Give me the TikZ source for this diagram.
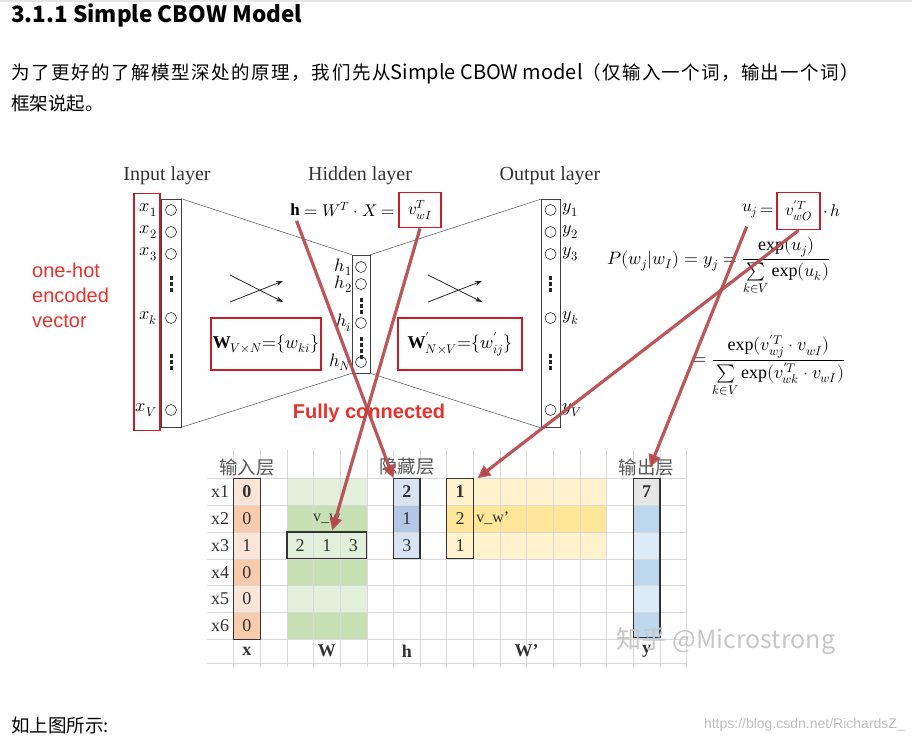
\documentclass[tikz,border=0pt]{standalone}
\usepackage{fontspec}
\usepackage{unicode-math}
\setmainfont{Liberation Serif}
\newfontfamily\cjk{Noto Sans CJK SC}
\newfontfamily\arial{Liberation Sans}
\usetikzlibrary{arrows.meta}

\definecolor{boxred}{RGB}{200,30,40}
\definecolor{arrowred}{RGB}{182,72,74}
\definecolor{hotred}{RGB}{230,50,45}
\definecolor{orgA}{RGB}{252,228,214}
\definecolor{orgB}{RGB}{248,203,173}
\definecolor{grnA}{RGB}{226,239,218}
\definecolor{grnB}{RGB}{198,224,180}
\definecolor{bluA}{RGB}{218,227,243}
\definecolor{bluB}{RGB}{180,199,231}
\definecolor{ylwA}{RGB}{255,242,204}
\definecolor{ylwB}{RGB}{255,230,153}
\definecolor{skyA}{RGB}{221,235,247}
\definecolor{skyB}{RGB}{189,215,238}
\definecolor{cellgray}{RGB}{231,230,230}
\definecolor{gridgray}{RGB}{217,217,217}

\tikzset{
  layer/.style={draw=black!75, line width=0.6pt, inner sep=0pt},
  neuron/.style={circle, draw=black!80, line width=0.6pt, minimum size=11pt, inner sep=0pt},
  unitlabel/.style={inner sep=0pt, font=\fontsize{18}{20}\selectfont},
  redbox/.style={draw=boxred, line width=1.8pt, inner sep=2pt},
  redarrow/.style={draw=arrowred, draw opacity=0.92, line width=3.2pt, -{Triangle[length=13pt,width=12pt]}},
  crossarrow/.style={draw=black!85, line width=0.8pt, -{Stealth[length=7pt,width=5pt]}},
  tblbox/.style={draw=black!80, line width=1.3pt},
  cell/.style={inner sep=0pt, font=\fontsize{18}{20}\selectfont, text=black!80},
  plain/.style={inner sep=0pt},
}

\begin{document}
\begin{tikzpicture}[x=1pt, y=-1pt, font=\fontsize{17}{19}\selectfont]
\useasboundingbox (0,0) rectangle (912,750);
\draw[black!10, line width=1.5pt] (0,1) -- (912,1);

\node[plain, anchor=west, font=\cjk\bfseries\fontsize{22.5}{25}\selectfont] (title) at (11,15) {3.1.1 Simple CBOW Model};
\node[plain, anchor=west, font=\cjk\fontsize{18.5}{21}\selectfont] (para1) at (11,74) {{\addfontfeature{LetterSpace=8.4}为了更好的了解模型深处的原理，我们先从}{\fontsize{20}{21}\selectfont Simple CBOW model}{\addfontfeature{LetterSpace=7}（仅输入一个词，输出一个词）}};
\node[plain, anchor=west, font=\cjk\fontsize{18.5}{21}\selectfont] (para2) at (11,104) {框架说起。};

% layers
\node[font=\fontsize{20}{22}\selectfont, text=black!80] (inlabel) at (167,176) {Input layer};
\node[font=\fontsize{20}{22}\selectfont, text=black!80] (hidlabel) at (360,176) {Hidden layer};
\node[font=\fontsize{20}{22}\selectfont, text=black!80] (outlabel) at (550,176) {Output layer};

\node[layer, minimum width=20pt, minimum height=228pt] (inlayer) at (171,313) {};
\node[layer, minimum width=18pt, minimum height=118pt] (hidlayer) at (361,314) {};
\node[layer, minimum width=19pt, minimum height=228pt] (outlayer) at (550.5,313.5) {};

\draw[black!60, line width=0.6pt] (inlayer.north east) -- (hidlayer.north west)
  (inlayer.south east) -- (hidlayer.south west)
  (hidlayer.north east) -- (outlayer.north west)
  (hidlayer.south east) -- (outlayer.south west);

\foreach \y/\lab [count=\i] in {210/1, 232/2, 254/3, 318/k, 410/V} {
  \node[neuron] (x\i) at (171,\y) {};
  \node[unitlabel, anchor=east] (xl\i) at (157,\y) {$x_{\lab}$};
  \node[neuron] (y\i) at (550.5,\y) {};
  \node[unitlabel, anchor=west] (yl\i) at (562,\y) {$y_{\lab}$};
}
\foreach \y/\lab [count=\i] in {267/1, 284/2, 323/i, 362/N} {
  \node[neuron] (h\i) at (361,\y) {};
  \node[unitlabel, anchor=east] (hl\i) at (352,\y) {$h_{\lab}$};
}
\foreach \y in {276,282,288,354,360,366} {
  \fill[black!85] (169.5,\y) rectangle ++(3,3.5);
  \fill[black!85] (549,\y) rectangle ++(3,3.5);
}
\foreach \y in {298,304,310,337,343,349,355}
  \fill[black!85] (359.5,\y) rectangle ++(3,3.5);

\draw[crossarrow] (230,275) -- (283,302);
\draw[crossarrow] (230,302) -- (283,281);
\draw[crossarrow] (428,275) -- (482,302);
\draw[crossarrow] (428,302) -- (482,281);

\node[redbox, minimum width=26pt, minimum height=237pt] (hotbox) at (147,312) {};
\node[plain, anchor=west, align=left, font=\arial\fontsize{20}{25}\selectfont, text=hotred] (hottext) at (32,295) {one-hot\\encoded\\vector};

\node[redbox, minimum width=108pt, minimum height=52pt, font=\fontsize{18}{20}\selectfont] (wbox) at (266,344) {$\mathbf{W}_{V\times N}{=}\{w_{ki}\}$};
\node[redbox, minimum width=124pt, minimum height=52pt, font=\fontsize{18}{20}\selectfont] (wpbox) at (460,344) {$\mathbf{W}^{\prime}_{N\times V}{=}\{w^{\prime}_{ij}\}$};

% formulas
\node[redbox, minimum width=42pt, minimum height=35pt] (vwI) at (420,210) {$v^T_{wI}$};
\node[anchor=east, inner sep=3pt] (heq) at (vwI.west) {$=W^T\cdot X=$};
\node[anchor=east, inner sep=1pt] (hsym) at (heq.west) {$\mathbf{h}$};

\node[redbox, minimum width=43pt, minimum height=37pt] (vwO) at (798.5,211) {$v^{\prime T}_{wO}$};
\node[anchor=east, inner sep=2pt] (ueq) at (vwO.west) {$=$};
\node[anchor=east, inner sep=1pt] (usym) at (ueq.west) {$u_j$};
\node[anchor=west, inner sep=2pt] (udot) at (vwO.east) {$\cdot\,h$};

\node[font=\fontsize{18}{20}\selectfont] (pform) at (719,266) {$P(w_j|w_I)=y_j=\dfrac{\exp(u_j)}{\sum\limits_{k\in V}\exp(u_k)}$};
\node[font=\fontsize{18}{20}\selectfont] (pform2) at (769,366) {$=\dfrac{\exp(v^{\prime T}_{wj}\cdot v_{wI})}{\sum\limits_{k\in V}\exp(v^{\prime T}_{wk}\cdot v_{wI})}$};

\node[font=\arial\bfseries\fontsize{20}{22}\selectfont, text=hotred] (fully) at (369,413) {Fully connected};

% table
\begin{scope}[shift={(206.9,478.3)}, x=26.65pt, y=-26.83pt]
  \foreach \r/\c in {1/orgA,2/orgB,3/orgA,4/orgB,5/orgA,6/orgB} {
    \fill[\c] (1,\r-1) rectangle (2,\r);
  }
  \foreach \r/\c in {1/grnA,2/grnB,3/grnA,4/grnB,5/grnA,6/grnB} {
    \fill[\c] (3,\r-1) rectangle (6,\r);
  }
  \foreach \r/\c in {1/bluA,2/bluB,3/bluA} {
    \fill[\c] (7,\r-1) rectangle (8,\r);
  }
  \foreach \r/\c in {1/ylwA,2/ylwB,3/ylwA} {
    \fill[\c] (9,\r-1) rectangle (15,\r);
  }
  \foreach \r/\c in {1/cellgray,2/skyB,3/skyA,4/skyB,5/skyA,6/skyB} {
    \fill[\c] (16,\r-1) rectangle (17,\r);
  }
  \foreach \r in {0,...,6}
    \draw[gridgray, line width=0.6pt] (0,\r) -- (18,\r);
  \draw[gridgray, line width=0.6pt] (0,6.9) -- (18,6.9);
  \foreach \c in {1,...,18}
    \draw[gridgray, line width=0.6pt] (\c,-1.05) -- (\c,7.05);

  \draw[tblbox] (1,0) rectangle (2,6);
  \draw[tblbox] (3,2) rectangle (6,3);
  \draw[tblbox] (7,0) rectangle (8,3);
  \draw[tblbox] (9,0) rectangle (10,3);
  \draw[tblbox] (16,0) rectangle (17,5.93);

  \node[cell, font=\cjk\fontsize{18.5}{20}\selectfont, text=black!65] (inhead) at (1.5,-0.42) {输入层};
  \node[cell, font=\cjk\fontsize{18.5}{20}\selectfont, text=black!65] (hidhead) at (7.5,-0.42) {隐藏层};
  \node[cell, font=\cjk\fontsize{18.5}{20}\selectfont, text=black!65] (outhead) at (16.5,-0.42) {输出层};

  \foreach \r/\v in {1/\textbf{0},2/0,3/1,4/0,5/0,6/0} {
    \node[cell] (xn\r) at (0.5,\r-0.5) {x\r};
    \node[cell] (xv\r) at (1.5,\r-0.5) {\v};
  }
  \node[cell] (w1) at (3.5,2.5) {2};
  \node[cell] (w2) at (4.5,2.5) {1};
  \node[cell] (w3) at (5.5,2.5) {3};
  \node[cell, font=\fontsize{16}{18}\selectfont] (vw) at (4.5,1.5) {v\_w};
  \node[cell] (hv1) at (7.5,0.5) {\textbf{2}};
  \node[cell] (hv2) at (7.5,1.5) {1};
  \node[cell] (hv3) at (7.5,2.5) {3};
  \node[cell] (wp1) at (9.5,0.5) {\textbf{1}};
  \node[cell] (wp2) at (9.5,1.5) {2};
  \node[cell] (wp3) at (9.5,2.5) {1};
  \node[cell, anchor=west, font=\fontsize{16}{18}\selectfont] (vwp) at (10.1,1.5) {v\_w’};
  \node[cell] (yv1) at (16.5,0.5) {\textbf{7}};

  \node[cell] (xfoot) at (1.5,6.44) {\textbf{x}};
  \node[cell] (wfoot) at (4.5,6.44) {\textbf{W}};
  \node[cell] (hfoot) at (7.5,6.44) {\textbf{h}};
  \node[cell] (wpfoot) at (12,6.44) {\textbf{W\char"27}};
  \node[cell] (yfoot) at (16.5,6.44) {\textbf{y}};

  \coordinate (htop) at (7,0);
  \coordinate (wrow) at (4.7,1.95);
  \coordinate (ytop) at (16.62,-0.4);
  \coordinate (wptop) at (10.15,0);
\end{scope}

\draw[redarrow, shorten <=4pt] (hsym.south) -- (htop);
\draw[redarrow] (vwI.south) -- (wrow);
\draw[redarrow, shorten <=8pt] (usym.south) -- (ytop);
\draw[redarrow] (vwO.south) -- (wptop);

\node[plain, font=\cjk\fontsize{25}{28}\selectfont, text=black!22] (zhihu) at (726,641) {知乎 @Microstrong};
\node[plain, anchor=west, font=\cjk\fontsize{18.5}{21}\selectfont] (after) at (11,725) {如上图所示:};
\node[plain, anchor=east, font=\arial\fontsize{14}{16}\selectfont, text=black!25] (csdn) at (905,725) {https://blog.csdn.net/RichardsZ\_};
\end{tikzpicture}
\end{document}
